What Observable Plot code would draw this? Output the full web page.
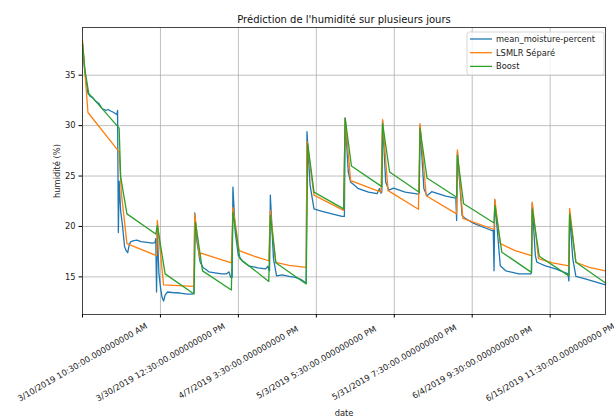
<!DOCTYPE html>
<html>
<head>
<meta charset="utf-8">
<script src="https://cdn.jsdelivr.net/npm/d3@7"></script>
<script src="https://cdn.jsdelivr.net/npm/@observablehq/plot@0.6"></script>
<style>
  html, body { margin: 0; padding: 0; background: #fff; }
  #chart { position: relative; width: 614px; height: 417px; }
</style>
</head>
<body>
<div id="chart"></div>
<script>
// ---------- data ----------
const title = "Prédiction de l'humidité sur plusieurs jours";
const yLabel = "humidité (%)";
const xLabel = "date";
const seriesNames = ["mean_moisture-percent", "LSMLR Séparé", "Boost"];
const seriesColors = ["#1f77b4", "#ff7f0e", "#2ca02c"];

// x = row index of the time series, y = humidity (%)
const xTicks = [0, 100, 200, 300, 400, 500, 600];
const xTickLabels = [
  "3/10/2019 10:30:00.000000000 AM",
  "3/30/2019 12:30:00.000000000 PM",
  "4/7/2019 3:30:00.000000000 PM",
  "5/3/2019 5:30:00.000000000 PM",
  "5/31/2019 7:30:00.000000000 PM",
  "6/4/2019 9:30:00.000000000 PM",
  "6/15/2019 11:30:00.000000000 PM"
];
const yTicks = [15, 20, 25, 30, 35];
const xDomain = [0, 671];
const yDomain = [11.27, 39.73];

const measured = [
  [0,38.0],[3,35.3],[7,33.2],[10,32.9],[13,32.8],[16,32.5],[21,32.2],[25,31.7],[28,31.6],[30,31.5],
  [33,31.6],[36,31.45],[39,31.35],[42,31.2],[44,31.1],[45,31.5],[46,19.4],[47,24.5],[49,21.5],[51,20.3],
  [54,18.0],[56,17.6],[58,17.4],[60,18.2],[62,18.5],[66,18.6],[70,18.65],[75,18.5],[80,18.45],[85,18.4],
  [90,18.35],[93,18.4],[94,18.8],[95,13.5],[96,19.6],[98,15.4],[100,14.0],[102,13.0],[104,12.6],[106,13.2],
  [109,13.5],[115,13.45],[125,13.4],[135,13.3],[141,13.3],[143,13.4],[144,21.35],[147,18.4],[151,16.45],[155,15.9],
  [158,15.75],[162,15.5],[170,15.4],[179,15.3],[185,15.3],[188,15.5],[190,14.95],[192,14.95],[193,23.9],[196,19.4],
  [200,17.1],[206,16.5],[213,16.1],[225,15.9],[235,15.8],[238,16.05],[239,15.7],[240,15.6],[241,23.1],[245,16.8],
  [249,15.1],[256,15.2],[265,15.05],[273,14.95],[280,14.75],[286,14.45],[287,14.4],[288,29.4],[292,24.1],[297,21.75],
  [303,21.6],[310,21.45],[320,21.25],[333,21.0],[336,21.0],[337,30.75],[341,25.4],[344,24.4],[354,23.75],[367,23.4],
  [378,23.25],[381,23.75],[383,23.3],[384,23.4],[385,30.5],[389,24.4],[393,23.6],[399,23.8],[414,23.4],[431,23.2],
  [432,23.3],[433,30.0],[438,23.75],[442,23.05],[448,23.45],[466,23.0],[479,22.8],[480,20.6],[481,27.4],[487,21.1],
  [491,20.8],[502,20.3],[525,19.6],[527,19.6],[528,15.6],[529,22.6],[536,16.1],[543,15.6],[560,15.3],[575,15.3],
  [576,15.4],[577,22.3],[581,17.1],[583,16.45],[594,16.1],[607,15.8],[623,15.3],[624,14.6],[625,21.3],[629,16.8],
  [633,15.05],[645,14.8],[658,14.5],[671,14.2]
];

const lsmlr = [
  [0,38.5],[7,31.3],[47,27.4],[50,23.2],[57,18.3],[95,17.1],[96,20.6],[104,14.2],[143,14.05],[144,21.25],
  [150,16.95],[152,17.35],[191,16.4],[193,21.9],[201,17.6],[220,17.05],[239,16.6],[241,21.6],[248,16.45],[265,16.15],
  [287,15.95],[288,28.4],[297,23.1],[335,21.6],[337,30.75],[344,24.55],[383,23.4],[385,30.6],[392,23.55],[431,21.7],
  [433,30.2],[441,23.05],[480,21.25],[481,27.6],[488,20.8],[528,19.7],[529,22.7],[536,18.3],[555,17.6],[576,17.1],
  [577,22.4],[585,16.8],[603,16.4],[624,16.1],[625,21.8],[633,16.45],[650,15.95],[671,15.6]
];

const boost = [
  [0,38.15],[3,35.6],[8,33.2],[47,29.75],[49,24.9],[57,21.25],[94,19.25],[96,20.1],[106,15.3],[143,13.3],
  [145,20.4],[154,15.6],[191,13.7],[193,21.4],[202,16.8],[239,14.55],[241,21.1],[248,16.4],[287,14.3],[289,28.2],
  [297,23.4],[335,21.75],[337,30.75],[345,26.0],[384,23.95],[385,30.2],[394,25.4],[432,23.4],[433,29.7],[442,24.8],
  [480,22.9],[481,27.05],[489,22.25],[528,20.35],[529,22.1],[538,17.45],[576,15.45],[577,21.75],[586,17.05],[624,15.1],
  [625,21.25],[633,16.45],[671,14.4]
];

// ---------- chart ----------
const font = "DejaVu Sans, sans-serif";
const allSeries = [measured, lsmlr, boost];

const plot = Plot.plot({
  width: 614,
  height: 417,
  marginLeft: 82,
  marginRight: 9,
  marginTop: 27,
  marginBottom: 103,
  style: { fontFamily: font, fontSize: "8.3px", background: "#fff", color: "#000", overflow: "visible" },
  x: { domain: xDomain, label: null },
  y: { domain: yDomain, label: null },
  marks: [
    Plot.gridX(xTicks, { stroke: "#b0b0b0", strokeOpacity: 1, strokeWidth: 0.8 }),
    Plot.gridY(yTicks, { stroke: "#b0b0b0", strokeOpacity: 1, strokeWidth: 0.8 }),
    ...allSeries.map((s, i) => Plot.line(s, { x: d => d[0], y: d => d[1], stroke: seriesColors[i], strokeWidth: 1.3 })),
    Plot.frame({ stroke: "#333", strokeWidth: 0.9 }),
    Plot.axisY(yTicks, { tickSize: 3.5, tickPadding: 3.5, label: null, fontSize: 8.3, fill: "#222" }),
    Plot.axisX(xTicks, { tickSize: 3.5, tickFormat: () => "", label: null }),
    Plot.text(xTicks, {
      x: d => d, text: (d, i) => xTickLabels[i], frameAnchor: "bottom",
      rotate: -30, textAnchor: "middle", lineAnchor: "middle", dy: 48, fontSize: 8.3, fill: "#222"
    }),
    Plot.text([yLabel], { frameAnchor: "left", dx: -25, rotate: -90, textAnchor: "middle", lineAnchor: "middle", fontSize: 8.3, fill: "#222" }),
    Plot.text([xLabel], { frameAnchor: "bottom", dy: 99, lineAnchor: "middle", fontSize: 8.3, fill: "#222" }),
    Plot.text([title], { frameAnchor: "top", dy: -5, lineAnchor: "bottom", fontSize: 10, fill: "#111" })
  ]
});

document.getElementById("chart").appendChild(plot);

// legend (upper right, inside the axes)
const svg = d3.select(plot);
const lg = svg.append("g").attr("transform", "translate(467,32)");
lg.append("rect").attr("width", 137).attr("height", 43).attr("rx", 2.5)
  .attr("fill", "#fff").attr("fill-opacity", 0.8).attr("stroke", "#ccc").attr("stroke-width", 0.8);
seriesNames.forEach((name, i) => {
  const y = 7 + i * 13.7;
  lg.append("line").attr("x1", 3).attr("x2", 25).attr("y1", y).attr("y2", y)
    .attr("stroke", seriesColors[i]).attr("stroke-width", 1.3);
  lg.append("text").attr("x", 29).attr("y", y).attr("dy", "0.35em")
    .attr("text-anchor", "start")
    .attr("font-family", font).attr("font-size", 8.3).attr("fill", "#222").text(name);
});
</script>
</body>
</html>
